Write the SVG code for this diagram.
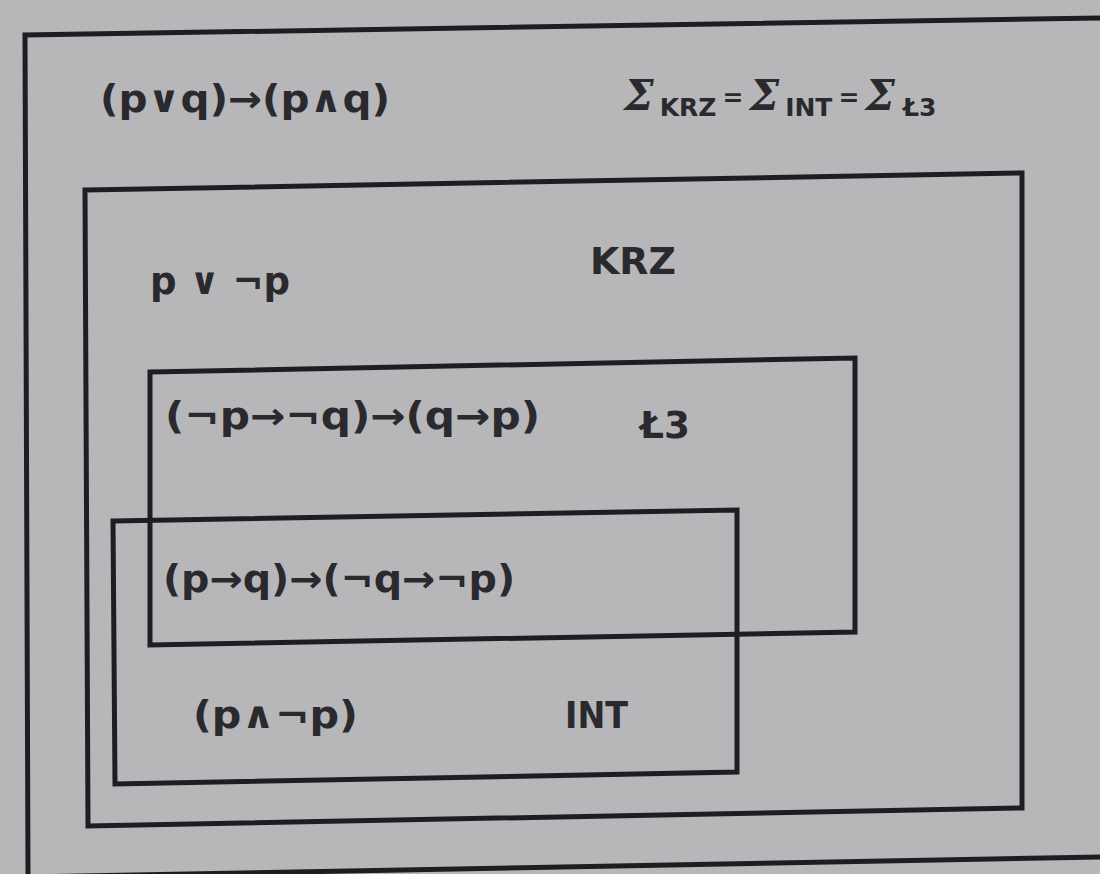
<svg xmlns="http://www.w3.org/2000/svg" width="1100" height="874" viewBox="0 0 1100 874">
<style>
.box{fill:none;stroke:#1e1e22;stroke-width:5;stroke-linejoin:miter}
.t{font-family:"DejaVu Sans","Liberation Sans",sans-serif;font-size:37px;font-weight:600;fill:#2a2a2e}
.s{font-family:"DejaVu Serif","Liberation Serif",serif;font-size:42px;font-style:italic;font-weight:bold;fill:#2a2a2e}
.sub{font-family:"DejaVu Sans","Liberation Sans",sans-serif;font-size:25px;font-weight:600;fill:#2a2a2e}
</style>
<rect width="1100" height="874" fill="#b7b7ba"/>
<g id="outer">
<polyline class="box" points="1100,18 25,35 28,874"/>
<line class="box" x1="25" y1="877" x2="1100" y2="857"/>
<text class="t" x="100" y="112" textLength="290" lengthAdjust="spacingAndGlyphs">(p∨q)→(p∧q)</text>
<text x="624" y="110"><tspan class="s">Σ</tspan><tspan class="sub" dy="6" dx="6">KRZ</tspan><tspan class="sub" dy="-10" dx="6">=</tspan><tspan class="s" dy="4" dx="6">Σ</tspan><tspan class="sub" dy="6" dx="6">INT</tspan><tspan class="sub" dy="-10" dx="6">=</tspan><tspan class="s" dy="4" dx="6">Σ</tspan><tspan class="sub" dy="6" dx="8">Ł3</tspan></text>
</g>
<g id="krz">
<polygon class="box" points="85,190 1022,173 1022,808 88,826"/>
<text class="t" x="150" y="294" textLength="140" lengthAdjust="spacingAndGlyphs">p ∨ ¬p</text>
<text class="t" x="590" y="274" textLength="86" lengthAdjust="spacingAndGlyphs">KRZ</text>
</g>
<g id="l3">
<polygon class="box" points="150,372 855,358 855,632 150,645"/>
<text class="t" x="165" y="429" textLength="375" lengthAdjust="spacingAndGlyphs">(¬p→¬q)→(q→p)</text>
<text class="t" x="640" y="438" textLength="50" lengthAdjust="spacingAndGlyphs">Ł3</text>
</g>
<g id="int">
<polygon class="box" points="113,521 737,510 737,772 115,784"/>
<text class="t" x="163" y="592" textLength="352" lengthAdjust="spacingAndGlyphs">(p→q)→(¬q→¬p)</text>
<text class="t" x="193" y="728" textLength="165" lengthAdjust="spacingAndGlyphs">(p∧¬p)</text>
<text class="t" x="565" y="728" textLength="63" lengthAdjust="spacingAndGlyphs">INT</text>
</g>
<g id="connectors"></g>
</svg>
